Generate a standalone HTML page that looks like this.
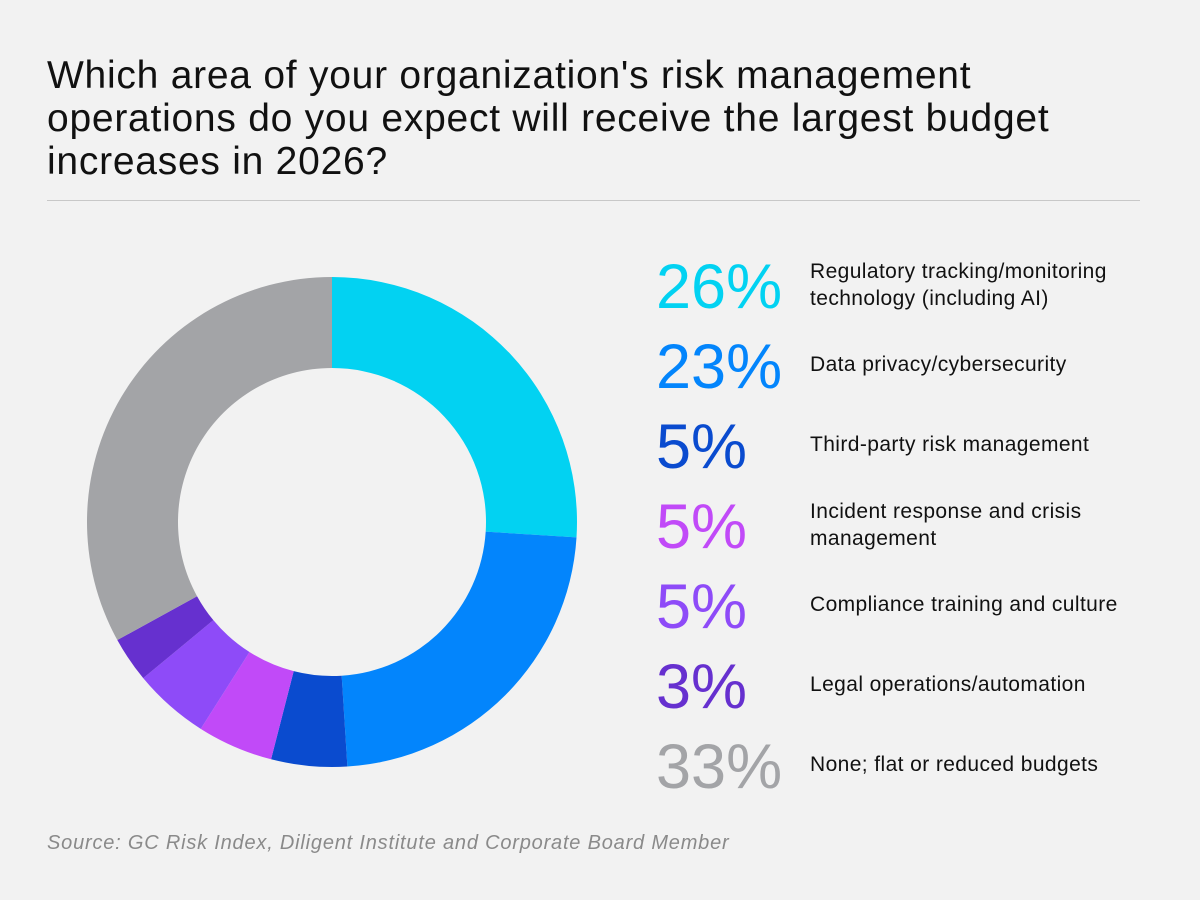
<!DOCTYPE html>
<html><head><meta charset="utf-8"><style>
body{margin:0;background:#F2F2F2;font-family:"Liberation Sans",sans-serif;}
#wrap{position:relative;width:1200px;height:900px;overflow:hidden;background:#F2F2F2}
.title{position:absolute;left:47px;top:54px;font-size:39px;line-height:43px;color:#111;width:1150px;white-space:nowrap;letter-spacing:0.75px}
.rule{position:absolute;left:47px;top:200px;width:1093px;height:1px;background:#c8c8c8}
.pct{position:absolute;left:656px;font-size:63px;font-weight:normal;line-height:64px}
.lab{position:absolute;left:810px;font-size:21px;line-height:27px;color:#111;letter-spacing:0.4px;white-space:nowrap}
.src{position:absolute;left:47px;top:832px;font-size:20px;font-style:italic;color:#8a8a8a;letter-spacing:0.8px}
</style></head><body>
<div id="wrap">
<div class="title">Which area of your organization's risk management<br>operations do you expect will receive the largest budget<br>increases in 2026?</div>
<div class="rule"></div>
<svg id="donut" width="1200" height="900" style="position:absolute;left:0;top:0"></svg>
<div id="legend"></div>
<div class="src">Source: GC Risk Index, Diligent Institute and Corporate Board Member</div>
</div>
<script>
const categories=["Regulatory tracking/monitoring<br>technology (including AI)","Data privacy/cybersecurity","Third-party risk management","Incident response and crisis<br>management","Compliance training and culture","Legal operations/automation","None; flat or reduced budgets"];
const values=[26,23,5,5,5,3,33];
const colors=["#02D2F2","#0385FC","#0A4BCF","#C14AF8","#8E4BF8","#6630CF","#A3A4A7"];
const cx=332,cy=522,R=245,r=154;
const svg=document.getElementById('donut');
const total=values.reduce((a,b)=>a+b,0);
function pt(a,rad){return [cx+rad*Math.sin(a),cy-rad*Math.cos(a)];}
let acc=0;
values.forEach((v,i)=>{
  const a0=acc/total*2*Math.PI;acc+=v;const a1=acc/total*2*Math.PI;
  const large=(a1-a0)>Math.PI?1:0;
  const [x0,y0]=pt(a0,R),[x1,y1]=pt(a1,R),[x2,y2]=pt(a1,r),[x3,y3]=pt(a0,r);
  const p=document.createElementNS('http://www.w3.org/2000/svg','path');
  p.setAttribute('d',`M${x0},${y0}A${R},${R} 0 ${large} 1 ${x1},${y1}L${x2},${y2}A${r},${r} 0 ${large} 0 ${x3},${y3}Z`);
  p.setAttribute('fill',colors[i]);
  
  
  svg.appendChild(p);
});
const lg=document.getElementById('legend');
values.forEach((v,i)=>{
  const top=255+i*80;
  const d=document.createElement('div');d.className='pct';d.style.top=top+'px';d.style.color=colors[i];d.textContent=v+'%';
  
  
  lg.appendChild(d);
  const l=document.createElement('div');l.className='lab';
  const two=categories[i].includes('<br>');
  l.style.top=(two?258:271)+i*80+'px';l.innerHTML=categories[i];
  
  
  lg.appendChild(l);
});
</script>
</body></html>
